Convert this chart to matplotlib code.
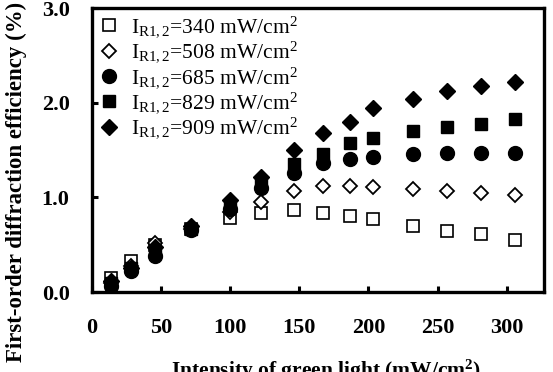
import matplotlib
matplotlib.use("Agg")
import matplotlib.pyplot as plt

plt.rcParams['font.family'] = ['Liberation Serif', 'DejaVu Serif']
plt.rcParams['mathtext.fontset'] = 'custom'
plt.rcParams['mathtext.rm'] = 'Liberation Serif'
plt.rcParams['mathtext.it'] = 'Liberation Serif:italic'
plt.rcParams['mathtext.bf'] = 'Liberation Serif:bold'

green = [14, 28, 46, 72, 100, 122, 146, 167, 187, 203, 232, 257, 281, 306]
eff_340 = [0.15, 0.33, 0.50, 0.67, 0.78, 0.83, 0.87, 0.83, 0.80, 0.77, 0.70, 0.65, 0.61, 0.55]
eff_508 = [0.10, 0.28, 0.52, 0.67, 0.85, 0.95, 1.07, 1.12, 1.12, 1.11, 1.09, 1.07, 1.05, 1.03]
eff_685 = [0.06, 0.22, 0.38, 0.66, 0.88, 1.10, 1.26, 1.36, 1.41, 1.43, 1.46, 1.47, 1.47, 1.47]
eff_829 = [0.10, 0.25, 0.42, 0.67, 0.92, 1.15, 1.35, 1.46, 1.57, 1.63, 1.70, 1.74, 1.78, 1.83]
eff_909 = [0.12, 0.25, 0.48, 0.70, 0.97, 1.22, 1.50, 1.68, 1.80, 1.95, 2.04, 2.12, 2.18, 2.22]
labels = ["340", "508", "685", "829", "909"]

fig = plt.figure(figsize=(5.53, 3.72), dpi=100)
ax = fig.add_axes([0.166, 0.215, 0.818, 0.763])

styles = [
    dict(marker='s', mfc='white', mec='black', ms=8.5, mew=1.2),
    dict(marker='D', mfc='white', mec='black', ms=7.5, mew=1.3),
    dict(marker='o', mfc='black', mec='black', ms=10),
    dict(marker='s', mfc='black', mec='black', ms=8.5),
    dict(marker='D', mfc='black', mec='black', ms=8.5),
]
series = [eff_340, eff_508, eff_685, eff_829, eff_909]
for lab, ys, st in zip(labels, series, styles):
    ax.plot(green, ys, linestyle='none', color='black',
            label=r"I$_{\mathrm{R1,2}}$=" + lab + r" mW/cm$^{2}$", **st)

ax.set_xlim(0, 327)
ax.set_ylim(0, 3.0)
ax.set_xticks([0, 50, 100, 150, 200, 250, 300])
ax.set_yticks([0.0, 1.0, 2.0, 3.0])
ax.set_yticklabels(["0.0", "1.0", "2.0", "3.0"])
for s in ax.spines.values():
    s.set_linewidth(2.4)
ax.tick_params(direction='in', length=4, width=2.2, labelsize=16)
for t in ax.get_xticklabels() + ax.get_yticklabels():
    t.set_fontweight('bold')
ax.tick_params(axis='x', pad=19)
ax.tick_params(axis='y', pad=16)

ax.set_ylabel("First-order diffraction efficiency (%)", fontsize=16.5,
              fontweight='bold')
ax.yaxis.set_label_coords(-0.144, 0.387)
ax.set_xlabel("Intensity of green light (mW/cm$^{\\mathbf{2}}$)", fontsize=15.5,
              fontweight='bold')
ax.xaxis.set_label_coords(0.518, -0.23)

leg = ax.legend(loc='upper left', bbox_to_anchor=(0.0, 1.0), frameon=False,
                fontsize=15.5, handlelength=1.0, handletextpad=0.5,
                labelspacing=0.02, borderaxespad=0.2, borderpad=0.1)

fig.savefig("out.png", dpi=100)
